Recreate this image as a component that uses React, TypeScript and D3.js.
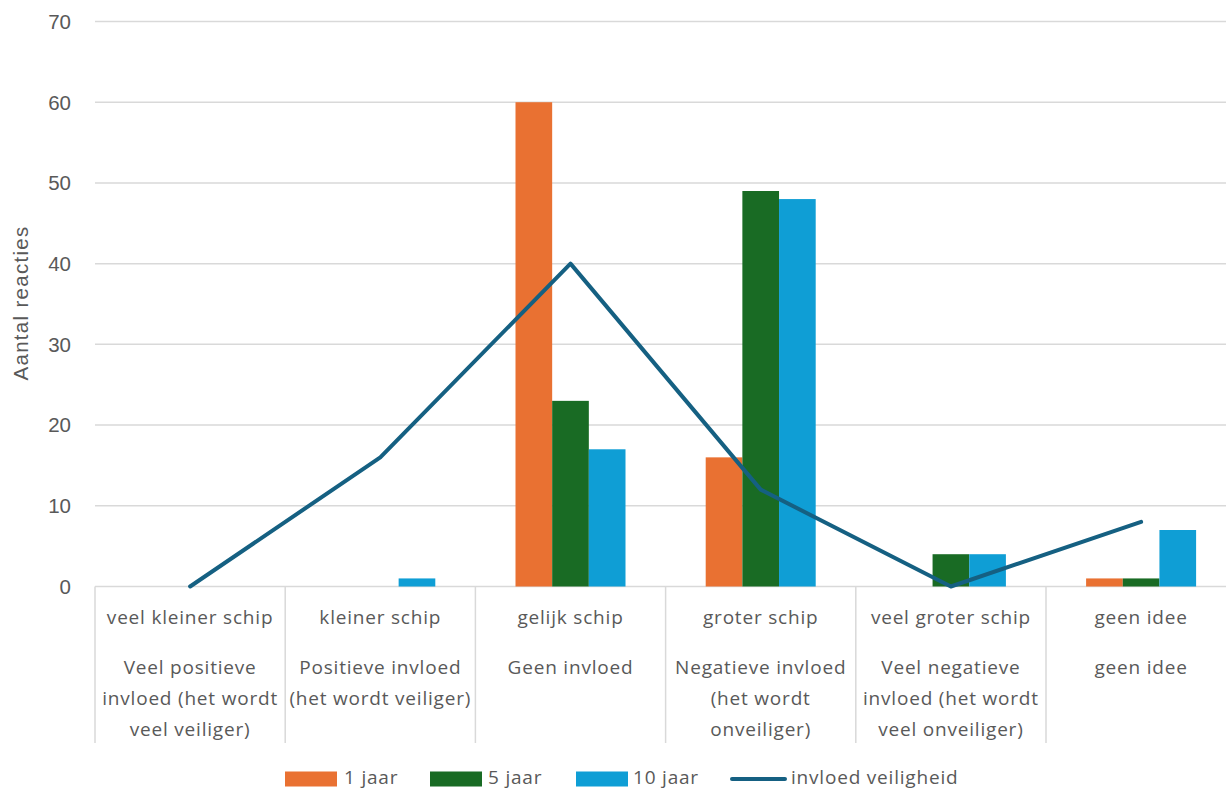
import React from "react";
import * as d3 from "d3";

const categories = ["veel kleiner schip", "kleiner schip", "gelijk schip", "groter schip", "veel groter schip", "geen idee"];
const categoryLevel1 = [
  ["veel kleiner schip"],
  ["kleiner schip"],
  ["gelijk schip"],
  ["groter schip"],
  ["veel groter schip"],
  ["geen idee"],
];
const categoryLevel2 = [
  ["Veel positieve", "invloed (het wordt", "veel veiliger)"],
  ["Positieve invloed", "(het wordt veiliger)"],
  ["Geen invloed"],
  ["Negatieve invloed", "(het wordt", "onveiliger)"],
  ["Veel negatieve", "invloed (het wordt", "veel onveiliger)"],
  ["geen idee"],
];
const jaar1 = [0, 0, 60, 16, 0, 1];
const jaar5 = [0, 0, 23, 49, 4, 1];
const jaar10 = [0, 1, 17, 48, 4, 7];
const invloed = [0, 16, 40, 12, 0, 8];
const yTicks = [0, 10, 20, 30, 40, 50, 60, 70];
const barSeries = [
  { name: "1 jaar", values: jaar1, color: "#E97132" },
  { name: "5 jaar", values: jaar5, color: "#196B24" },
  { name: "10 jaar", values: jaar10, color: "#0F9ED5" },
];
const lineName = "invloed veiligheid";
const lineColor = "#156082";

const W = 1226;
const H = 789;
const FONT = "'Open Sans', sans-serif";
const AXFONT = "'Liberation Sans', Arial, sans-serif";
const TXT = "#595959";
const FS = 19;
const LS = 0.8;

export default function App() {
  const left = 95;
  const catW = 190.2;
  const x = d3.scaleBand<string>().domain(categories).range([left, left + catW * categories.length]).paddingInner(0).paddingOuter(0);
  const y = d3.scaleLinear().domain([0, 70]).range([586.5, 21.5]);
  const groupW = 110;
  const xs = d3.scaleBand<string>().domain(barSeries.map((s) => s.name)).range([0, groupW]).padding(0);
  const line = d3
    .line<number>()
    .x((_, i) => (x(categories[i]) as number) + x.bandwidth() / 2)
    .y((d) => y(d));

  const legendItems = [
    { name: "1 jaar", color: barSeries[0].color, sx: 285, tx: 344, type: "bar" },
    { name: "5 jaar", color: barSeries[1].color, sx: 430, tx: 488, type: "bar" },
    { name: "10 jaar", color: barSeries[2].color, sx: 576, tx: 633, type: "bar" },
    { name: lineName, color: lineColor, sx: 732, tx: 791, type: "line" },
  ];

  return (
    <svg width={W} height={H} style={{ position: "absolute", left: 0, top: 0, background: "#fff" }} fontFamily={FONT}>
      {yTicks.map((t) => (
        <line key={t} x1={left} x2={W} y1={y(t)} y2={y(t)} stroke="#D9D9D9" strokeWidth={1.5} />
      ))}
      {yTicks.map((t) => (
        <text key={"l" + t} x={71} y={y(t)} dy="0.36em" textAnchor="end" fontSize={20.5} fontFamily={AXFONT} fill={TXT}>
          {t}
        </text>
      ))}
      <text
        transform={`translate(21,${303}) rotate(-90)`}
        dy="0.36em"
        textAnchor="middle"
        fontSize={20.5}
        fontFamily={AXFONT}
        letterSpacing={1.3}
        fill={TXT}
      >
        Aantal reacties
      </text>
      {categories.map((c) => (
        <line key={"s" + c} x1={x(c) as number} x2={x(c) as number} y1={y(0)} y2={743} stroke="#D9D9D9" strokeWidth={1.5} />
      ))}
      {barSeries.map((s) =>
        s.values.map((v, i) => {
          if (v === 0) return null;
          const gx = (x(categories[i]) as number) + (x.bandwidth() - groupW) / 2 + (xs(s.name) as number);
          return <rect key={s.name + i} x={gx} y={y(v)} width={xs.bandwidth()} height={y(0) - y(v)} fill={s.color} />;
        })
      )}
      <path d={line(invloed) || ""} fill="none" stroke={lineColor} strokeWidth={4} strokeLinejoin="round" strokeLinecap="round" />
      {categories.map((c, i) => {
        const cx = (x(c) as number) + x.bandwidth() / 2;
        return (
          <g key={"cl" + c} fontSize={FS} letterSpacing={LS} fill={TXT} textAnchor="middle">
            {categoryLevel1[i].map((l, j) => (
              <text key={j} x={cx} y={623.5 + j * 31}>
                {l}
              </text>
            ))}
            {categoryLevel2[i].map((l, j) => (
              <text key={"b" + j} x={cx} y={673.5 + j * 31}>
                {l}
              </text>
            ))}
          </g>
        );
      })}
      {legendItems.map((it) => (
        <g key={it.name}>
          {it.type === "bar" ? (
            <rect x={it.sx} y={771.5} width={52} height={15} fill={it.color} />
          ) : (
            <line x1={it.sx} x2={it.sx + 53} y1={779} y2={779} stroke={it.color} strokeWidth={4} strokeLinecap="round" />
          )}
          <text x={it.tx} y={783.5} fontSize={FS} letterSpacing={LS} fill={TXT}>
            {it.name}
          </text>
        </g>
      ))}
    </svg>
  );
}
